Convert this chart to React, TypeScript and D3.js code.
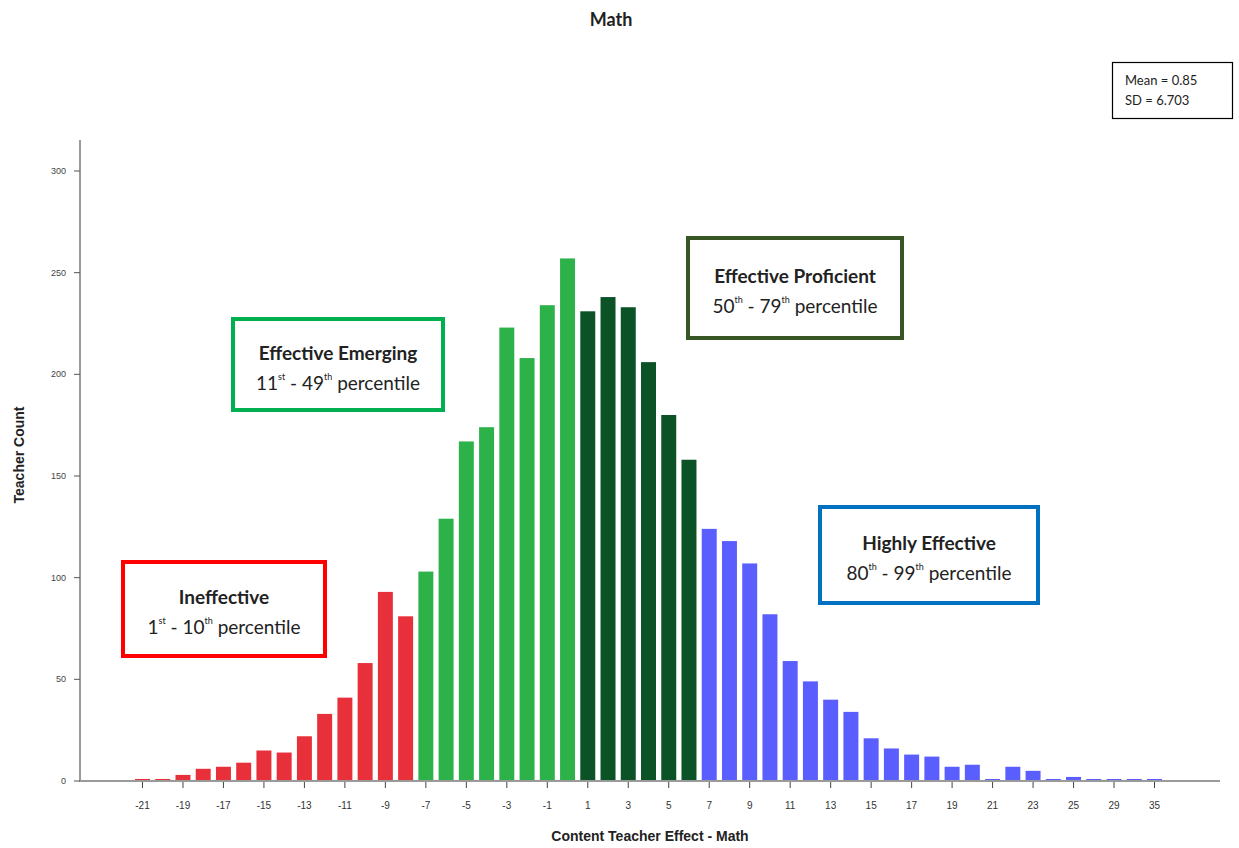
import React from "react";
import * as d3 from "d3";

const categories: string[] = [
  "-21","-20","-19","-18","-17","-16","-15","-14","-13","-12","-11","-10","-9","-8",
  "-7","-6","-5","-4","-3","-2","-1","0",
  "1","2","3","4","5","6",
  "7","8","9","10","11","12","13","14","15","16","17","18","19","20","21","22","23","24","25","27","29","31","35",
];
const counts: number[] = [
  1,1,3,6,7,9,15,14,22,33,41,58,93,81,
  103,129,167,174,223,208,234,257,
  231,238,233,206,180,158,
  124,118,107,82,59,49,40,34,21,16,13,12,7,8,1,7,5,1,2,1,1,1,1,
];
const groups: string[] = [
  ...Array(14).fill("ineffective"),
  ...Array(8).fill("emerging"),
  ...Array(6).fill("proficient"),
  ...Array(23).fill("highly"),
];
const groupColors: Record<string, string> = {
  ineffective: "#E8303A",
  emerging: "#2DB24A",
  proficient: "#0B5227",
  highly: "#5A5EFF",
};
const yTicks = [0, 50, 100, 150, 200, 250, 300];

const W = 1239;
const H = 848;
const axisFont = "'Liberation Sans', Arial, sans-serif";
const boxFont = "Lato, 'Open Sans', sans-serif";

type Box = {
  x: number; y: number; w: number; h: number; color: string;
  title: string; a: string; aSup: string; b: string; bSup: string;
};
const boxes: Box[] = [
  { x: 123, y: 562, w: 202, h: 94, color: "#FF0000", title: "Ineffective", a: "1", aSup: "st", b: "10", bSup: "th" },
  { x: 233, y: 319, w: 210, h: 91, color: "#00B050", title: "Effective Emerging", a: "11", aSup: "st", b: "49", bSup: "th" },
  { x: 688, y: 238, w: 214, h: 100, color: "#375623", title: "Effective Proficient", a: "50", aSup: "th", b: "79", bSup: "th" },
  { x: 820, y: 507, w: 218, h: 96, color: "#0070C0", title: "Highly Effective", a: "80", aSup: "th", b: "99", bSup: "th" },
];

export default function App() {
  const x = d3.scaleBand<string>().domain(categories).range([135, 1162]).paddingInner(0.26).paddingOuter(0);
  const y = d3.scaleLinear().domain([0, 300]).range([781, 171]);
  const axisColor = "#9a9a9a";
  const tickCats = categories.filter((_, i) => i % 2 === 0);

  return (
    <svg width={W} height={H} style={{ position: "absolute", left: 0, top: 0, background: "#fff" }}>
      <rect x={0} y={0} width={W} height={H} fill="#fff" />
      {/* title */}
      <text x={611} y={26} textAnchor="middle" fontFamily={boxFont} fontWeight="bold" fontSize={18} fill="#222">Math</text>

      {/* stats box */}
      <rect x={1112.5} y={62.5} width={120} height={56} fill="#fff" stroke="#000" strokeWidth={1.2} />
      <text x={1125} y={85} fontFamily={boxFont} fontSize={13} fill="#222">Mean = 0.85</text>
      <text x={1125} y={105} fontFamily={boxFont} fontSize={13} fill="#222">SD = 6.703</text>

      {/* bars */}
      {categories.map((c, i) => (
        <rect key={c} x={x(c)} y={y(counts[i])} width={x.bandwidth()} height={y(0) - y(counts[i])} fill={groupColors[groups[i]]} />
      ))}

      {/* y axis */}
      <line x1={80} x2={80} y1={140} y2={782} stroke={axisColor} strokeWidth={2} />
      {yTicks.map((t) => (
        <g key={t}>
          <line x1={74} x2={80} y1={y(t)} y2={y(t)} stroke="#555" strokeWidth={1} />
          <text x={66} y={y(t) + 3} textAnchor="end" fontFamily={axisFont} fontSize={9} fill="#444">{t}</text>
        </g>
      ))}
      <text transform="translate(24,455) rotate(-90)" textAnchor="middle" fontFamily={axisFont} fontWeight="bold" fontSize={14} fill="#222">Teacher Count</text>

      {/* x axis */}
      <line x1={80} x2={1220} y1={781} y2={781} stroke={axisColor} strokeWidth={2} />
      {tickCats.map((c) => {
        const cx = (x(c) as number) + x.bandwidth() / 2;
        return (
          <g key={c}>
            <line x1={cx} x2={cx} y1={782} y2={788} stroke="#444" strokeWidth={1} />
            <text x={cx} y={809} textAnchor="middle" fontFamily={axisFont} fontSize={10} fill="#333">{c}</text>
          </g>
        );
      })}
      <text x={650} y={841} textAnchor="middle" fontFamily={axisFont} fontWeight="bold" fontSize={14} fill="#222">Content Teacher Effect - Math</text>

      {/* annotation boxes */}
      {boxes.map((b) => {
        const cx = b.x + b.w / 2;
        return (
          <g key={b.title}>
            <rect x={b.x} y={b.y} width={b.w} height={b.h} fill="#fff" stroke={b.color} strokeWidth={4} />
            <text x={cx} y={b.y + b.h / 2 - 5} textAnchor="middle" fontFamily={boxFont} fontWeight="bold" fontSize={19} fill="#222">{b.title}</text>
            <text x={cx} y={b.y + b.h / 2 + 25} textAnchor="middle" fontFamily={boxFont} fontSize={19} fill="#222">
              <tspan>{b.a}</tspan>
              <tspan dy={-10} fontSize={9}>{b.aSup}</tspan>
              <tspan dy={10}>{" - " + b.b}</tspan>
              <tspan dy={-10} fontSize={9}>{b.bSup}</tspan>
              <tspan dy={10}>{" percentile"}</tspan>
            </text>
          </g>
        );
      })}
    </svg>
  );
}
